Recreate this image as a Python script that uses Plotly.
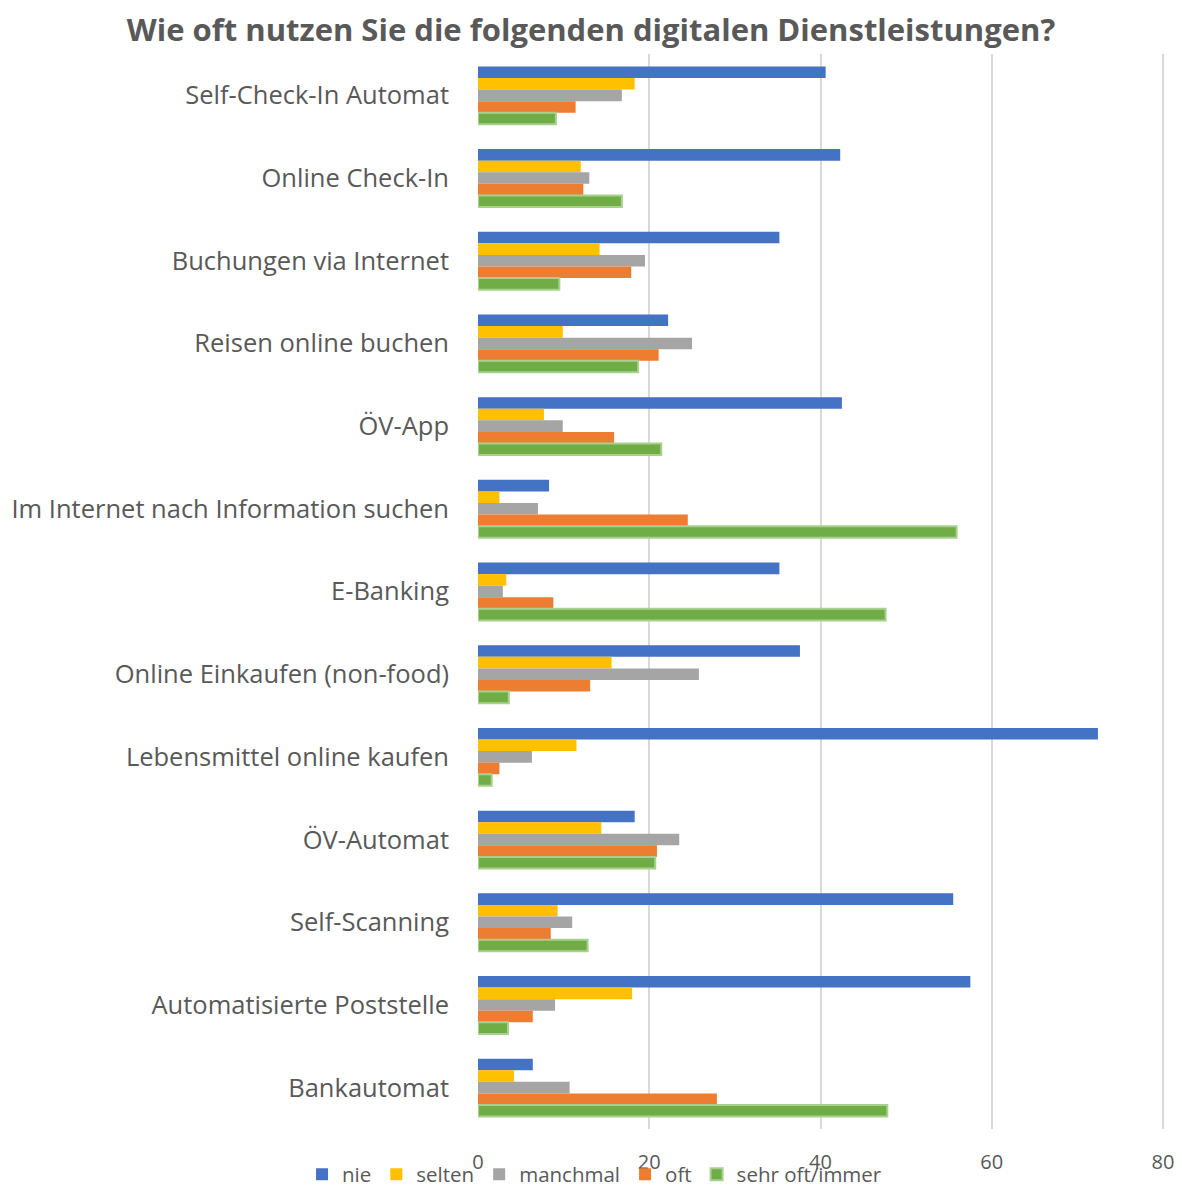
import plotly.graph_objects as go

categories = [
    "Self-Check-In Automat",
    "Online Check-In",
    "Buchungen via Internet",
    "Reisen online buchen",
    "ÖV-App",
    "Im Internet nach Information suchen",
    "E-Banking",
    "Online Einkaufen (non-food)",
    "Lebensmittel online kaufen",
    "ÖV-Automat",
    "Self-Scanning",
    "Automatisierte Poststelle",
    "Bankautomat",
]

nie = [40.6, 42.3, 35.2, 22.2, 42.5, 8.3, 35.2, 37.6, 72.4, 18.3, 55.5, 57.5, 6.4]
selten = [18.3, 12.0, 14.2, 9.9, 7.7, 2.5, 3.3, 15.6, 11.5, 14.4, 9.3, 18.0, 4.2]
manchmal = [16.8, 13.0, 19.5, 25.0, 9.9, 7.0, 2.9, 25.8, 6.3, 23.5, 11.0, 9.0, 10.7]
oft = [11.4, 12.3, 17.9, 21.1, 15.9, 24.5, 8.8, 13.1, 2.5, 20.9, 8.5, 6.4, 27.9]
sehr_oft = [9.1, 16.8, 9.5, 18.7, 21.4, 55.9, 47.6, 3.6, 1.6, 20.7, 12.8, 3.5, 47.8]

series = [
    ("nie", nie, "#4472C4", None),
    ("selten", selten, "#FFC000", None),
    ("manchmal", manchmal, "#A5A5A5", None),
    ("oft", oft, "#ED7D31", None),
    ("sehr oft/immer", sehr_oft, "#70AD47", "#A9D18E"),
]

TEXT = "#595959"
FONT = "Open Sans"

fig = go.Figure()
for name, vals, color, edge in series:
    fig.add_trace(go.Bar(
        name=name,
        x=vals,
        y=categories,
        orientation="h",
        marker=dict(
            color=color,
            line=dict(color=edge if edge else color, width=2 if edge else 0),
        ),
    ))

fig.update_layout(
    width=1182,
    height=1188,
    barmode="group",
    bargap=0.3,
    bargroupgap=0,
    plot_bgcolor="white",
    paper_bgcolor="white",
    margin=dict(l=478, r=16, t=54, b=59, autoexpand=False),
    title=dict(
        text="<b>Wie oft nutzen Sie die folgenden digitalen Dienstleistungen?</b>",
        x=0.5,
        xref="container",
        xanchor="center",
        y=0.975,
        yref="container",
        yanchor="middle",
        font=dict(family=FONT, size=31, color=TEXT),
    ),
    font=dict(family=FONT, color=TEXT),
    legend=dict(
        orientation="h",
        x=0.503,
        xref="container",
        xanchor="center",
        y=0.0115,
        yref="container",
        yanchor="middle",
        font=dict(family=FONT, size=20.5, color=TEXT),
        bgcolor="rgba(0,0,0,0)",
        itemwidth=30,
    ),
    xaxis=dict(
        range=[0, 80.35],
        tickvals=[0, 20, 40, 60, 80],
        showgrid=True,
        gridcolor="#D9D9D9",
        gridwidth=1.5,
        zeroline=False,
        showline=False,
        ticks="",
        automargin=False,
        tickfont=dict(family=FONT, size=20, color=TEXT),
        ticklabelstandoff=19,
    ),
    yaxis=dict(
        autorange="reversed",
        showgrid=False,
        showline=False,
        ticks="",
        automargin=False,
        tickfont=dict(family=FONT, size=25.5, color=TEXT),
        ticklabelstandoff=28,
    ),
)

fig.write_html("out.html")
